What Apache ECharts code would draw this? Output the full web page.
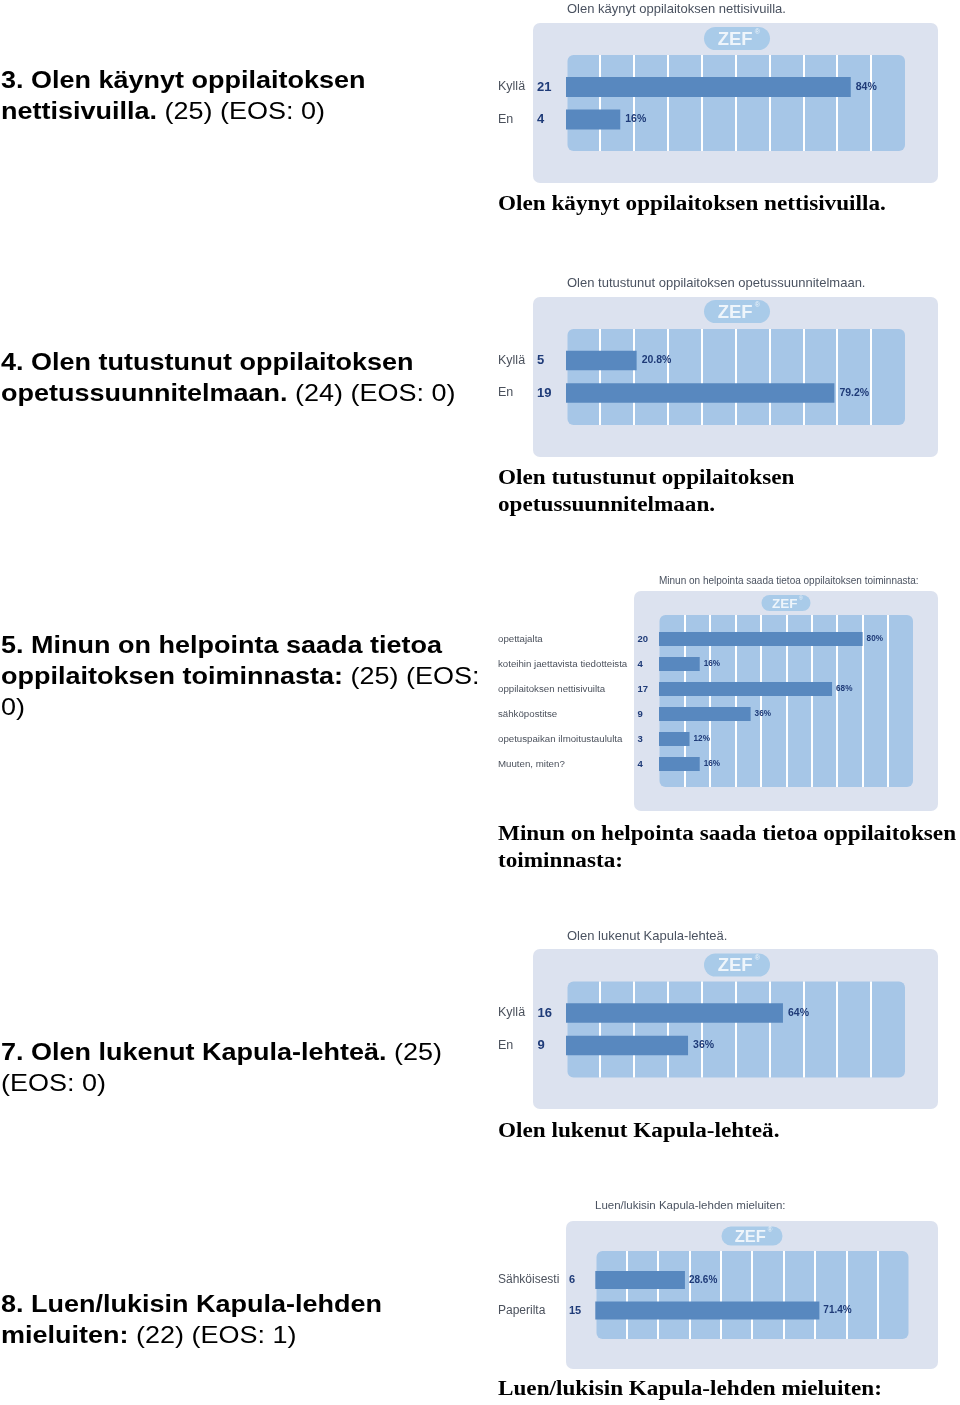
<!DOCTYPE html>
<html>
<head>
<meta charset="utf-8">
<script src="https://cdn.jsdelivr.net/npm/echarts@6/dist/echarts.min.js"></script>
<style>html,body{margin:0;padding:0;background:#fff}#c{width:960px;height:1405px}</style>
</head>
<body>
<div id="c"></div>
<script>
// ---------------- data ----------------
const q3Title = 'Olen käynyt oppilaitoksen nettisivuilla.';
const q3Categories = ['Kyllä', 'En'];
const q3Counts = [21, 4];
const q3N = 25;

const q4Title = 'Olen tutustunut oppilaitoksen opetussuunnitelmaan.';
const q4Categories = ['Kyllä', 'En'];
const q4Counts = [5, 19];
const q4N = 24;

const q5Title = 'Minun on helpointa saada tietoa oppilaitoksen toiminnasta:';
const q5Categories = ['opettajalta', 'koteihin jaettavista tiedotteista', 'oppilaitoksen nettisivuilta', 'sähköpostitse', 'opetuspaikan ilmoitustaululta', 'Muuten, miten?'];
const q5Counts = [20, 4, 17, 9, 3, 4];
const q5N = 25;

const q7Title = 'Olen lukenut Kapula-lehteä.';
const q7Categories = ['Kyllä', 'En'];
const q7Counts = [16, 9];
const q7N = 25;

const q8Title = 'Luen/lukisin Kapula-lehden mieluiten:';
const q8Categories = ['Sähköisesti', 'Paperilta'];
const q8Counts = [6, 15];
const q8N = 21;

const percentTicks = [0, 10, 20, 30, 40, 50, 60, 70, 80, 90, 100];

const h3Lines = [['3. Olen käynyt oppilaitoksen', ''], ['nettisivuilla.', ' (25) (EOS: 0)']];
const h4Lines = [['4. Olen tutustunut oppilaitoksen', ''], ['opetussuunnitelmaan.', ' (24) (EOS: 0)']];
const h5Lines = [['5. Minun on helpointa saada tietoa', ''], ['oppilaitoksen toiminnasta:', ' (25) (EOS:'], ['', '0)']];
const h7Lines = [['7. Olen lukenut Kapula-lehteä.', ' (25)'], ['', '(EOS: 0)']];
const h8Lines = [['8. Luen/lukisin Kapula-lehden', ''], ['mieluiten:', ' (22) (EOS: 1)']];

const c3Lines = ['Olen käynyt oppilaitoksen nettisivuilla.'];
const c4Lines = ['Olen tutustunut oppilaitoksen', 'opetussuunnitelmaan.'];
const c5Lines = ['Minun on helpointa saada tietoa oppilaitoksen', 'toiminnasta:'];
const c7Lines = ['Olen lukenut Kapula-lehteä.'];
const c8Lines = ['Luen/lukisin Kapula-lehden mieluiten:'];

// ---------------- layout ----------------
const panels = [
  { title: q3Title, cats: q3Categories, counts: q3Counts, n: q3N,
    outer: [533, 23, 405, 160], inner: [567.5, 55, 337.5, 96], axL: 566, axW: 339,
    barTop: 70.75, step: 32.5, barW: 20, titlePos: [567, 9], badge: [737, 38.5, 66, 23, 18.5],
    labelX: 498, countX: 537, fsLab: 12.5, fsCnt: 13, fsPct: 10.5, titleFs: 13, pctDist: 5,
    head: h3Lines, headY: [81, 112], cap: c3Lines, capY: [204.5] },
  { title: q4Title, cats: q4Categories, counts: q4Counts, n: q4N,
    outer: [533, 297, 405, 160], inner: [567.5, 329, 337.5, 96], axL: 566, axW: 339,
    barTop: 344.25, step: 32.5, barW: 19.5, titlePos: [567, 283], badge: [737, 311.5, 66, 23, 18.5],
    labelX: 498, countX: 537, fsLab: 12.5, fsCnt: 13, fsPct: 10.5, titleFs: 13, pctDist: 5,
    head: h4Lines, headY: [363, 394], cap: c4Lines, capY: [478.5, 505.5] },
  { title: q5Title, cats: q5Categories, counts: q5Counts, n: q5N,
    outer: [634, 591, 304, 220], inner: [659.5, 615, 253.5, 172], axL: 659, axW: 254.5,
    barTop: 626.5, step: 25, barW: 14, titlePos: [659, 581], badge: [786, 603, 49, 16, 13.5],
    labelX: 498, countX: 637.5, fsLab: 9.7, fsCnt: 9.5, fsPct: 8.2, titleFs: 10, pctDist: 4,
    head: h5Lines, headY: [646, 677, 708], cap: c5Lines, capY: [835, 862] },
  { title: q7Title, cats: q7Categories, counts: q7Counts, n: q7N,
    outer: [533, 949, 405, 160], inner: [567.5, 981.5, 337.5, 96], axL: 566, axW: 339,
    barTop: 996.75, step: 32.5, barW: 19.5, titlePos: [567, 936], badge: [737, 965, 66, 23, 18.5],
    labelX: 498, countX: 537.5, fsLab: 12.5, fsCnt: 13, fsPct: 10.5, titleFs: 13, pctDist: 5,
    head: h7Lines, headY: [1053, 1084], cap: c7Lines, capY: [1131.5] },
  { title: q8Title, cats: q8Categories, counts: q8Counts, n: q8N,
    outer: [566, 1221, 372, 148], inner: [596.5, 1251, 312, 88], axL: 595.3, axW: 313.7,
    barTop: 1264.75, step: 30.5, barW: 18, titlePos: [595, 1206], badge: [752, 1236, 61, 19, 16.5],
    labelX: 498, countX: 569, fsLab: 12, fsCnt: 11, fsPct: 10, titleFs: 11.5, pctDist: 4,
    head: h8Lines, headY: [1305, 1336], cap: c8Lines, capY: [1389.5] }
];

function fmtPct(c, n) {
  const p = Math.round(c / n * 1000) / 10;
  return (Number.isInteger(p) ? String(p) : p.toFixed(1)) + '%';
}

const SANS = 'Arial, "Liberation Sans", Helvetica, sans-serif';
const SERIF = '"Times New Roman", "Liberation Serif", serif';
const GRAY = '#4b515c';
const NAVY = '#1f3b78';
const BAR = '#5888bf';
const OUTER = '#dce2ef';
const INNER = '#a6c6e7';
const BADGE = '#a9cbe9';

const grid = [], xAxis = [], yAxis = [], series = [], graphics = [];

panels.forEach((p, i) => {
  const gS = 2 * i, gB = 2 * i + 1;
  // stripe grid (background columns)
  grid.push({ left: p.axL, width: p.axW, top: p.inner[1], height: p.inner[3], outerBoundsMode: 'none' });
  // bar grid
  grid.push({ left: p.axL, width: p.axW, top: p.barTop, height: p.step * p.cats.length, outerBoundsMode: 'none' });

  xAxis.push({
    gridIndex: gS, type: 'value', min: percentTicks[0], max: percentTicks[percentTicks.length - 1],
    interval: percentTicks[1] - percentTicks[0], z: 1,
    axisLine: { show: false }, axisTick: { show: false }, axisLabel: { show: false },
    splitLine: { show: true, showMinLine: false, showMaxLine: false, lineStyle: { color: '#ffffff', width: 2 } }
  });
  xAxis.push({
    gridIndex: gB, type: 'value', min: percentTicks[0], max: percentTicks[percentTicks.length - 1], show: false
  });
  yAxis.push({ gridIndex: gS, type: 'value', min: 0, max: 1, show: false });
  yAxis.push({
    gridIndex: gB, type: 'category', inverse: true, data: p.cats, z: 3,
    axisLine: { show: false }, axisTick: { show: false }, splitLine: { show: false },
    axisLabel: {
      interval: 0, align: 'left', margin: p.axL - p.labelX,
      formatter: (v, idx) => '{n|' + v + '}{c|' + p.counts[idx] + '}',
      rich: {
        n: { width: p.countX - p.labelX, fontSize: p.fsLab, fontFamily: SANS, color: GRAY },
        c: { fontSize: p.fsCnt, fontWeight: 'bold', fontFamily: SANS, color: NAVY }
      }
    }
  });
  series.push({
    type: 'bar', xAxisIndex: gB, yAxisIndex: gB, z: 4,
    data: p.counts.map(c => c / p.n * 100),
    barWidth: p.barW,
    itemStyle: { color: BAR },
    label: {
      show: true, position: 'right', distance: p.pctDist,
      formatter: prm => fmtPct(p.counts[prm.dataIndex], p.n),
      fontSize: p.fsPct, fontWeight: 'bold', fontFamily: SANS, color: NAVY
    },
    silent: true, animation: false
  });

  // outer panel
  graphics.push({ type: 'rect', z: -10, shape: { x: p.outer[0], y: p.outer[1], width: p.outer[2], height: p.outer[3], r: 7 }, style: { fill: OUTER } });
  // inner area
  graphics.push({ type: 'rect', z: -9, shape: { x: p.inner[0], y: p.inner[1], width: p.inner[2], height: p.inner[3], r: 6 }, style: { fill: INNER } });
  // badge
  const b = p.badge;
  graphics.push({ type: 'rect', z: -8, shape: { x: b[0] - b[2] / 2, y: b[1] - b[3] / 2, width: b[2], height: b[3], r: b[3] / 2 }, style: { fill: BADGE } });
  graphics.push({ type: 'text', z: -7, x: b[0] - b[4] * 0.1, y: b[1] + 1, style: { text: 'ZEF', fill: 'rgba(255,255,255,0.8)', fontSize: b[4], fontWeight: 'bold', fontFamily: SANS, align: 'center', verticalAlign: 'middle' } });
  graphics.push({ type: 'text', z: -7, x: b[0] + b[4] * 1.1, y: b[1] - b[4] * 0.35, style: { text: '®', fill: 'rgba(255,255,255,0.8)', fontSize: b[4] * 0.38, fontFamily: SANS, align: 'center', verticalAlign: 'middle' } });
  // panel title
  graphics.push({ type: 'text', z: 5, x: p.titlePos[0], y: p.titlePos[1], style: { text: p.title, fill: '#4a5260', fontSize: p.titleFs, fontFamily: SANS, align: 'left', verticalAlign: 'middle' } });
  // heading
  p.head.forEach((ln, k) => {
    let txt = '';
    if (ln[0]) txt += '{b|' + ln[0] + '}';
    if (ln[1]) txt += '{r|' + ln[1] + '}';
    graphics.push({ type: 'text', z: 5, x: 1, y: p.headY[k], scaleY: 0.88, style: {
      text: txt, fill: '#000', fontSize: 27, fontFamily: SANS, align: 'left', verticalAlign: 'middle',
      rich: { b: { fontSize: 27, fontWeight: 'bold', fontFamily: SANS, fill: '#000' }, r: { fontSize: 27, fontWeight: 'normal', fontFamily: SANS, fill: '#000' } }
    } });
  });
  // caption
  p.cap.forEach((ln, k) => {
    graphics.push({ type: 'text', z: 5, x: 498, y: p.capY[k], scaleY: 0.9, style: {
      text: ln, fill: '#000', fontSize: 23.2, fontWeight: 'bold', fontFamily: SERIF, align: 'left', verticalAlign: 'middle' } });
  });
});

const chart = echarts.init(document.getElementById('c'), null, { renderer: 'canvas', width: 960, height: 1405 });
chart.setOption({
  animation: false,
  backgroundColor: '#ffffff',
  grid, xAxis, yAxis, series,
  graphic: { elements: graphics }
});
</script>
</body>
</html>
